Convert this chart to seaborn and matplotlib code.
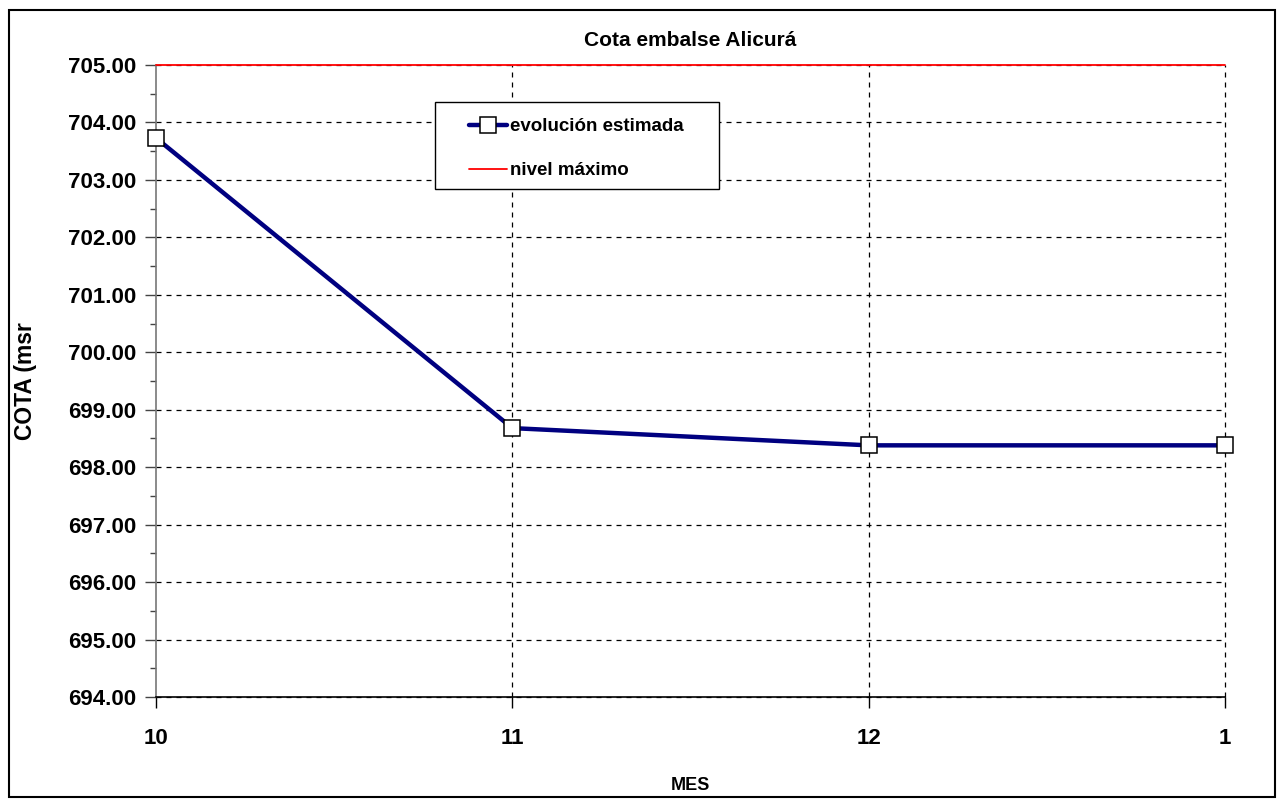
import matplotlib
matplotlib.use("Agg")
import matplotlib.pyplot as plt
import seaborn as sns
import pandas as pd
import numpy as np
from matplotlib.patches import Rectangle
from matplotlib.ticker import MultipleLocator, FormatStrFormatter

meses = ["10", "11", "12", "1"]
cota_estimada = [703.73, 698.68, 698.38, 698.38]
nivel_maximo = 705.00

sns.set_theme(style="white")
plt.rcParams['font.family'] = ['Liberation Sans', 'DejaVu Sans']
plt.rcParams['font.weight'] = 'bold'
plt.rcParams['text.color'] = 'black'
plt.rcParams['axes.labelcolor'] = 'black'
plt.rcParams['xtick.color'] = 'black'
plt.rcParams['ytick.color'] = 'black'

W, H = 1277, 799
L, R, T, B = 156, 1225, 65, 697
fig = plt.figure(figsize=(W / 100, H / 100), dpi=100)
fig.patch.set_facecolor("white")
ax = fig.add_axes([L / W, 1 - B / H, (R - L) / W, (B - T) / H])

def ax_x(px):
    return (px - L) / (R - L)

def ax_y(py):
    return 1 - (py - T) / (B - T)

df = pd.DataFrame({"pos": np.arange(len(meses)), "cota": cota_estimada})
sns.lineplot(data=df, x="pos", y="cota", ax=ax, color="#000080", linewidth=3.2,
             marker="s", markersize=11, markerfacecolor="white",
             markeredgecolor="black", markeredgewidth=1.1,
             label="evolución estimada", zorder=5, clip_on=False)
ax.axhline(nivel_maximo, color="#ff0000", linewidth=1.3, label="nivel máximo", zorder=4, clip_on=False)

ax.set_xlim(0, len(meses) - 1)
ax.set_ylim(694, 705)
ax.set_xticks(np.arange(len(meses)))
ax.set_xticklabels(meses)
ax.yaxis.set_major_locator(MultipleLocator(1))
ax.yaxis.set_minor_locator(MultipleLocator(0.5))
ax.yaxis.set_major_formatter(FormatStrFormatter("%.2f"))

ax.grid(True, which="major", axis="both", color="black", linestyle=(0, (4, 4)), linewidth=0.9)
ax.set_axisbelow(True)
fig.canvas.draw()
xg = ax.get_xgridlines()
yg = ax.get_ygridlines()
for gl in xg + yg:
    gl.set_clip_on(False)
xg[0].set_visible(False)
yg[0].set_visible(False)

for s in ["top", "right"]:
    ax.spines[s].set_visible(False)
ax.spines["left"].set_color("#777777")
ax.spines["left"].set_linewidth(1.2)
ax.spines["bottom"].set_color("black")
ax.spines["bottom"].set_linewidth(1.2)

ax.tick_params(axis="y", which="major", direction="out", length=8, width=1, color="#444444",
               labelsize=16, pad=6, left=True)
ax.tick_params(axis="y", which="minor", direction="out", length=4, width=1, color="#444444", left=True)
ax.tick_params(axis="x", which="major", direction="out", length=8, width=1, color="black",
               labelsize=16, pad=14, bottom=True)
for lbl in ax.get_xticklabels() + ax.get_yticklabels():
    lbl.set_fontweight("bold")
    lbl.set_color("black")

ax.set_xlabel("MES", fontsize=13, fontweight="bold", labelpad=0, color="black")
ax.xaxis.set_label_coords(0.5, ax_y(777))
ax.set_ylabel("COTA (msr", fontsize=16.5, fontweight="bold", color="black")
ax.yaxis.set_label_coords(ax_x(37), 0.5)
ax.set_title("Cota embalse Alicurá", fontsize=15, fontweight="bold", pad=14, color="black")

leg = ax.legend(loc="upper left", bbox_to_anchor=(ax_x(469), ax_y(118)),
                frameon=False, fontsize=13.5,
                borderpad=0, labelspacing=1.45, handlelength=2.0, handletextpad=0.2,
                borderaxespad=0)
for t in leg.get_texts():
    t.set_fontweight("bold")
    t.set_color("black")
leg.set_zorder(11)

ax.add_patch(Rectangle((ax_x(435), ax_y(189)), ax_x(719) - ax_x(435), ax_y(102) - ax_y(189),
                       transform=ax.transAxes, facecolor="white", edgecolor="black",
                       linewidth=1.0, zorder=10, clip_on=False))

fig.patches.append(Rectangle((9 / W, 1 - 797 / H), (1275 - 9) / W, (797 - 10) / H,
                             transform=fig.transFigure, fill=False, edgecolor="black",
                             linewidth=1.5))

fig.savefig("out.png", dpi=100)
